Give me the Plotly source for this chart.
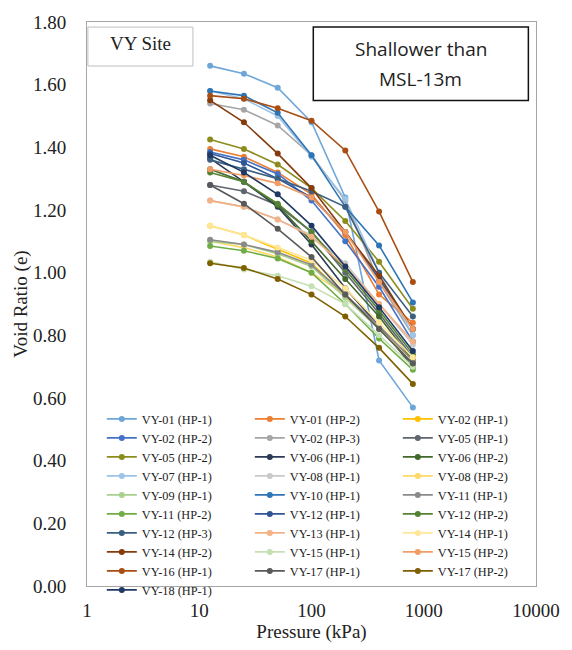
import plotly.graph_objects as go

pressure = [12.5, 25, 50, 100, 200, 400, 800]

names = [
    "VY-01 (HP-1)", "VY-01 (HP-2)", "VY-02 (HP-1)", "VY-02 (HP-2)", "VY-02 (HP-3)",
    "VY-05 (HP-1)", "VY-05 (HP-2)", "VY-06 (HP-1)", "VY-06 (HP-2)", "VY-07 (HP-1)",
    "VY-08 (HP-1)", "VY-08 (HP-2)", "VY-09 (HP-1)", "VY-10 (HP-1)", "VY-11 (HP-1)",
    "VY-11 (HP-2)", "VY-12 (HP-1)", "VY-12 (HP-2)", "VY-12 (HP-3)", "VY-13 (HP-1)",
    "VY-14 (HP-1)", "VY-14 (HP-2)", "VY-15 (HP-1)", "VY-15 (HP-2)", "VY-16 (HP-1)",
    "VY-17 (HP-1)", "VY-17 (HP-2)", "VY-18 (HP-1)",
]

colors = [
    "#6FA6DA", "#ED7D31", "#FFC000", "#4472C4", "#A5A5A5",
    "#5F6670", "#8C8C1E", "#2B3A55", "#43682B", "#9DC3E6",
    "#C9C9C9", "#FFD966", "#A9D18E", "#2E75B6", "#8A8A8A",
    "#70AD47", "#2F5597", "#548235", "#3A5F80", "#F4B183",
    "#FFE699", "#843C0C", "#C5E0B4", "#F19C65", "#A84E14",
    "#595959", "#7F6000", "#1F3864",
]

void_ratio = [
    [1.66, 1.635, 1.59, 1.48, 1.24, 0.72, 0.57],
    [1.395, 1.37, 1.32, 1.25, 1.12, 0.93, 0.84],
    [1.15, 1.12, 1.075, 1.03, 0.925, 0.83, 0.70],
    [1.385, 1.36, 1.315, 1.23, 1.10, 0.955, 0.78],
    [1.54, 1.52, 1.47, 1.375, 1.23, 0.97, 0.80],
    [1.28, 1.26, 1.215, 1.13, 1.00, 0.87, 0.73],
    [1.425, 1.395, 1.345, 1.27, 1.165, 1.035, 0.885],
    [1.365, 1.29, 1.21, 1.09, 0.95, 0.83, 0.70],
    [1.33, 1.29, 1.215, 1.10, 0.98, 0.86, 0.72],
    [1.58, 1.555, 1.50, 1.37, 1.235, 1.00, 0.80],
    [1.23, 1.21, 1.17, 1.12, 1.03, 0.90, 0.77],
    [1.10, 1.08, 1.05, 1.00, 0.93, 0.82, 0.72],
    [1.10, 1.09, 1.06, 1.02, 0.92, 0.82, 0.71],
    [1.58, 1.565, 1.51, 1.375, 1.21, 1.087, 0.905],
    [1.105, 1.09, 1.065, 1.025, 0.93, 0.83, 0.72],
    [1.085, 1.07, 1.045, 1.00, 0.90, 0.79, 0.69],
    [1.38, 1.35, 1.30, 1.24, 1.13, 0.98, 0.82],
    [1.32, 1.29, 1.22, 1.13, 1.01, 0.88, 0.74],
    [1.36, 1.33, 1.30, 1.26, 1.21, 1.00, 0.86],
    [1.23, 1.21, 1.17, 1.115, 1.02, 0.90, 0.78],
    [1.15, 1.12, 1.08, 1.04, 0.95, 0.84, 0.73],
    [1.55, 1.48, 1.38, 1.27, 1.13, 0.99, 0.82],
    [1.035, 1.01, 0.99, 0.957, 0.90, 0.80, 0.70],
    [1.33, 1.31, 1.285, 1.24, 1.13, 0.97, 0.82],
    [1.565, 1.555, 1.525, 1.485, 1.39, 1.195, 0.97],
    [1.28, 1.22, 1.14, 1.05, 0.93, 0.82, 0.71],
    [1.03, 1.015, 0.98, 0.93, 0.86, 0.76, 0.645],
    [1.375, 1.32, 1.25, 1.15, 1.02, 0.89, 0.75],
]

x_ticks = [1, 10, 100, 1000, 10000]
x_ticktext = ["1", "10", "100", "1000", "10000"]
y_ticks = [0.0, 0.2, 0.4, 0.6, 0.8, 1.0, 1.2, 1.4, 1.6, 1.8]

serif = "Liberation Serif, Times New Roman, serif"
sans = "Open Sans, Noto Sans, sans-serif"

fig = go.Figure()
for name, col, vals in zip(names, colors, void_ratio):
    fig.add_trace(go.Scatter(
        x=pressure, y=vals, name=name, mode="lines+markers",
        line=dict(color=col, width=1.6),
        marker=dict(color=col, size=6, symbol="circle"),
    ))

fig.update_layout(
    width=572, height=650,
    margin=dict(l=87, r=26, t=17, b=57),
    paper_bgcolor="white", plot_bgcolor="white",
    font=dict(family=serif, color="#222222", size=19),
    showlegend=True,
    legend=dict(
        orientation="h", x=0.033, y=0.322, xanchor="left", yanchor="top",
        entrywidth=103, entrywidthmode="pixels", itemwidth=30,
        font=dict(family=serif, size=12.3, color="#222222"),
        bgcolor="rgba(255,255,255,0)", borderwidth=0,
        tracegroupgap=0,
    ),
    xaxis=dict(
        type="log", range=[0, 4], tickvals=x_ticks, ticktext=x_ticktext,
        showgrid=False, zeroline=False,
        showline=True, linecolor="#A6A6A6", linewidth=1, mirror=True,
        ticks="", ticklabelstandoff=7,
        tickfont=dict(family=serif, size=19, color="#222222"),
        title=dict(text="Pressure (kPa)", standoff=4,
                   font=dict(family=serif, size=19, color="#222222")),
    ),
    yaxis=dict(
        range=[0, 1.8], tickvals=y_ticks, tickformat=".2f",
        showgrid=False, zeroline=False,
        showline=True, linecolor="#A6A6A6", linewidth=1, mirror=True,
        ticks="", ticklabelstandoff=16,
        tickfont=dict(family=serif, size=19, color="#222222"),
        title=dict(text="Void Ratio (e)", standoff=0,
                   font=dict(family=serif, size=19, color="#222222")),
    ),
    shapes=[
        dict(type="rect", xref="paper", yref="paper",
             x0=0.002, x1=0.236, y0=0.922, y1=0.991,
             line=dict(color="#BFBFBF", width=1), fillcolor="white", layer="above"),
        dict(type="rect", xref="paper", yref="paper",
             x0=0.504, x1=0.983, y0=0.861, y1=0.991,
             line=dict(color="#111111", width=1.5), fillcolor="white", layer="above"),
    ],
    annotations=[
        dict(text="VY Site", xref="paper", yref="paper", x=0.119, y=0.962,
             xanchor="center", yanchor="middle", showarrow=False,
             font=dict(family=serif, size=19, color="#222222")),
        dict(text="Shallower than", xref="paper", yref="paper",
             x=0.743, y=0.953, xanchor="center", yanchor="middle", showarrow=False,
             font=dict(family=sans, size=19, color="#222222")),
        dict(text="MSL-13m", xref="paper", yref="paper",
             x=0.743, y=0.899, xanchor="center", yanchor="middle", showarrow=False,
             font=dict(family=sans, size=19, color="#222222")),
    ],
)

fig.write_html("out.html")
